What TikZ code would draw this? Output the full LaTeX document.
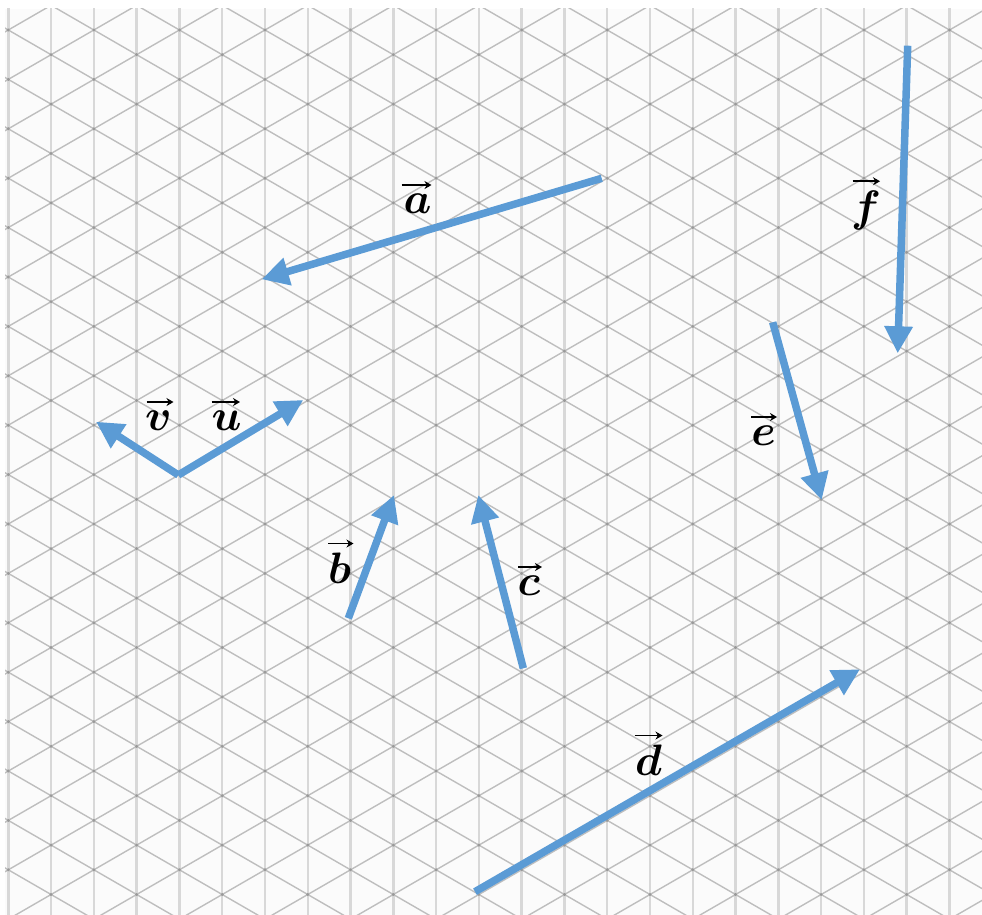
\documentclass[tikz,border=0pt]{standalone}
\usepackage{amsmath}
\usepackage{graphicx}
\usetikzlibrary{arrows.meta,calc}
\definecolor{vecblue}{HTML}{5B9BD5}
\definecolor{gridv}{HTML}{D8D8D8}
\definecolor{gridd}{HTML}{BEBEBE}
\definecolor{griddot}{HTML}{999999}
\newcommand{\vlet}[1]{\scalebox{4.4}{$\boldsymbol{#1}$}}
\begin{document}
\begin{tikzpicture}[x=1pt,y=-1pt,
  vec/.style={draw=vecblue, line width=7.5pt, -{Triangle[length=27pt,width=27pt]}},
  lbl/.style={inner sep=0pt},
  overarrow/.style={draw=black, line width=1.8pt, -{Stealth[length=7pt,width=8pt]}}]
\useasboundingbox (0,0) rectangle (982,915);
\fill[white] (0,0) rectangle (982,915);
\begin{scope}
  \clip (5,9) rectangle (982,915);
  \fill[gray!3] (5,9) rectangle (982,915);
  \foreach \i in {0,...,22}
    \draw[gridv, line width=2.4pt] ({8.3+42.78*\i},0) -- ({8.3+42.78*\i},920);
  \foreach \k in {-13,...,20}
    \draw[gridd, line width=1.4pt] (-100,{30-62.53+49.4*\k}) -- (1100,{30+630.3+49.4*\k});
  \foreach \k in {0,...,33}
    \draw[gridd, line width=1.4pt] (-100,{30+62.53+49.4*\k}) -- (1100,{30-630.3+49.4*\k});
  \foreach \i in {0,...,22} {
    \foreach \m in {-1,...,18} {
      \fill[griddot] ({8.3+42.78*\i},{30+24.7*mod(\i,2)+49.4*\m}) circle (1.6);
    }
  }
\end{scope}
% end points
\coordinate (a0) at (601.7,178.3); \coordinate (a1) at (261.7,279.3);
\coordinate (b0) at (348.3,618.3); \coordinate (b1) at (394,495);
\coordinate (c0) at (523.3,668.3); \coordinate (c1) at (478.3,495);
\coordinate (d0) at (475,891.7);   \coordinate (d1) at (860,669.3);
\coordinate (e0) at (772.7,322.3); \coordinate (e1) at (821.7,500);
\coordinate (f0) at (907.7,45.7);  \coordinate (f1) at (897.7,353.3);
\coordinate (o)  at (178.3,475);
\coordinate (u1) at (303.3,400);   \coordinate (v1) at (96,421.7);
% vectors
\draw[vec] (a0) -- (a1);
\draw[vec] (b0) -- (b1);
\draw[vec] (c0) -- (c1);
\draw[vec] (d0) -- (d1);
\draw[vec] (e0) -- (e1);
\draw[vec] (f0) -- (f1);
\draw[vec] (o) -- (u1);
\draw[vec] (o) -- (v1);
% labels
\node[lbl] (la) at (417.5,204) {\vlet{a}};
\node[lbl] (lf) at (866,210) {\vlet{f}};
\node[lbl] (le) at (763.5,436) {\vlet{e}};
\node[lbl] (lb) at (339.5,568) {\vlet{b}};
\node[lbl] (lc) at (529,586) {\vlet{c}};
\node[lbl] (ld) at (648.5,760) {\vlet{d}};
\node[lbl] (lv) at (158.5,421) {\vlet{v}};
\node[lbl] (lu) at (226.5,421) {\vlet{u}};
% arrows over the letters
\foreach \n/\l/\r in {la/-16/14, le/-12.5/13.5, lb/-11.5/14, lc/-11/13,
                      ld/-14/14, lv/-12/15, lu/-15/13.5, lf/-13.5/14}
  \draw[overarrow] ($(\n.north)+(\l,-9)$) -- ($(\n.north)+(\r,-9)$);
\end{tikzpicture}
\end{document}
